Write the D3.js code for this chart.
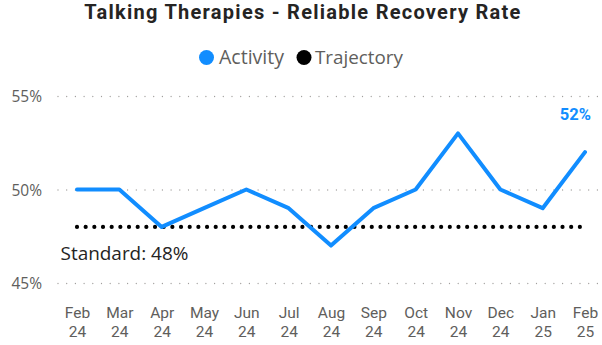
<!DOCTYPE html>
<html><head><meta charset="utf-8">
<script src="https://cdn.jsdelivr.net/npm/d3@7"></script>
<style>html,body{margin:0;padding:0;background:#fff;}svg{display:block;}</style>
</head><body>
<svg id="c" width="602" height="345"></svg>
<script>
const months = ["Feb","Mar","Apr","May","Jun","Jul","Aug","Sep","Oct","Nov","Dec","Jan","Feb"];
const years  = ["24","24","24","24","24","24","24","24","24","24","24","25","25"];
const activity = [50,50,48,49,50,49,47,49,50,53,50,49,52];
const trajectory = [48,48,48,48,48,48,48,48,48,48,48,48,48];
const yTicks = [45,50,55];
const title = "Talking Therapies - Reliable Recovery Rate";
const standardLabel = "Standard: 48%";

const svg = d3.select("#c");
const keys = months.map((m,i)=>i);
const x = d3.scalePoint().domain(keys).range([77,585]);
const y = d3.scaleLinear().domain([45,55]).range([283,96]);

function fit(sel, w){
  const fs = parseFloat(sel.attr("font-size"));
  const l = sel.node().getComputedTextLength();
  sel.attr("font-size", (fs*w/l).toFixed(2));
  return sel;
}
function fitSpacing(sel, w){
  const txt = sel.text();
  const l = sel.node().getComputedTextLength();
  sel.attr("letter-spacing", ((w-l)/(txt.length-1)).toFixed(3));
  return sel;
}

// title
fitSpacing(svg.append("text").attr("x",303).attr("y",19).attr("text-anchor","middle")
  .attr("font-family","Roboto").attr("font-weight","bold").attr("font-size",20)
  .attr("fill","#252423").text(title), 436);

// legend
const lg = svg.append("g");
lg.append("circle").attr("cx",206.5).attr("cy",57.5).attr("r",7.5).attr("fill","#118DFF");
fit(lg.append("text").attr("x",219).attr("y",64).attr("font-family","Open Sans").attr("font-size",18)
  .attr("fill","#605E5C").text("Activity"),65);
lg.append("circle").attr("cx",304).attr("cy",57.5).attr("r",7.5).attr("fill","#000");
fit(lg.append("text").attr("x",315).attr("y",64).attr("font-family","Open Sans").attr("font-size",18)
  .attr("fill","#605E5C").text("Trajectory"),88);

// y gridlines + labels
const yAxis = d3.axisLeft(y).tickValues(yTicks).tickSize(-542).tickFormat(d=>d+"%");
const ga = svg.append("g").attr("transform","translate(600,0)");
ga.call(yAxis);
ga.select(".domain").remove();
ga.selectAll(".tick line").attr("stroke","#A19F9D").attr("stroke-width",1.3)
  .attr("stroke-dasharray","0,8.7").attr("stroke-linecap","round").attr("x1",-542).attr("x2",0);
ga.selectAll(".tick text").remove();
svg.append("g").selectAll("text").data(yTicks).join("text")
  .attr("x",42).attr("y",d=>y(d)+6).attr("text-anchor","end")
  .attr("font-family","Open Sans").attr("font-size",15.5).attr("fill","#605E5C")
  .text(d=>d+"%");

// x axis labels
const gx = svg.append("g").attr("transform","translate(0,300)");
gx.call(d3.axisBottom(x).tickSize(0).tickFormat(""));
gx.select(".domain").remove();
gx.selectAll(".tick").each(function(d){
  const t = d3.select(this).append("text").attr("text-anchor","middle")
    .attr("font-family","Roboto").attr("font-size",15.5).attr("fill","#605E5C");
  t.append("tspan").attr("x",0).attr("y",17.7).text(months[d]);
  t.append("tspan").attr("x",0).attr("y",36.5).text(years[d]);
});

// trajectory dotted line
svg.append("path").datum(trajectory)
  .attr("d", d3.line().x((d,i)=>x(i)).y(d=>y(d)))
  .attr("fill","none").attr("stroke","#000").attr("stroke-width",4.2)
  .attr("stroke-linecap","round").attr("stroke-dasharray","0,8.67");

// activity line
svg.append("path").datum(activity)
  .attr("d", d3.line().x((d,i)=>x(i)).y(d=>y(d)))
  .attr("fill","none").attr("stroke","#118DFF").attr("stroke-width",4)
  .attr("stroke-linejoin","round").attr("stroke-linecap","round");

// last label
const last = activity.length-1;
svg.append("text").attr("x",591).attr("y",y(activity[last])-32)
  .attr("text-anchor","end").attr("font-family","Roboto").attr("font-weight","bold")
  .attr("font-size",16.5).attr("fill","#118DFF").text(activity[last]+"%");

// standard label
fit(svg.append("text").attr("x",60.5).attr("y",260).attr("font-family","Open Sans")
  .attr("font-size",18).attr("fill","#252423").text(standardLabel),128);
</script>
</body></html>
